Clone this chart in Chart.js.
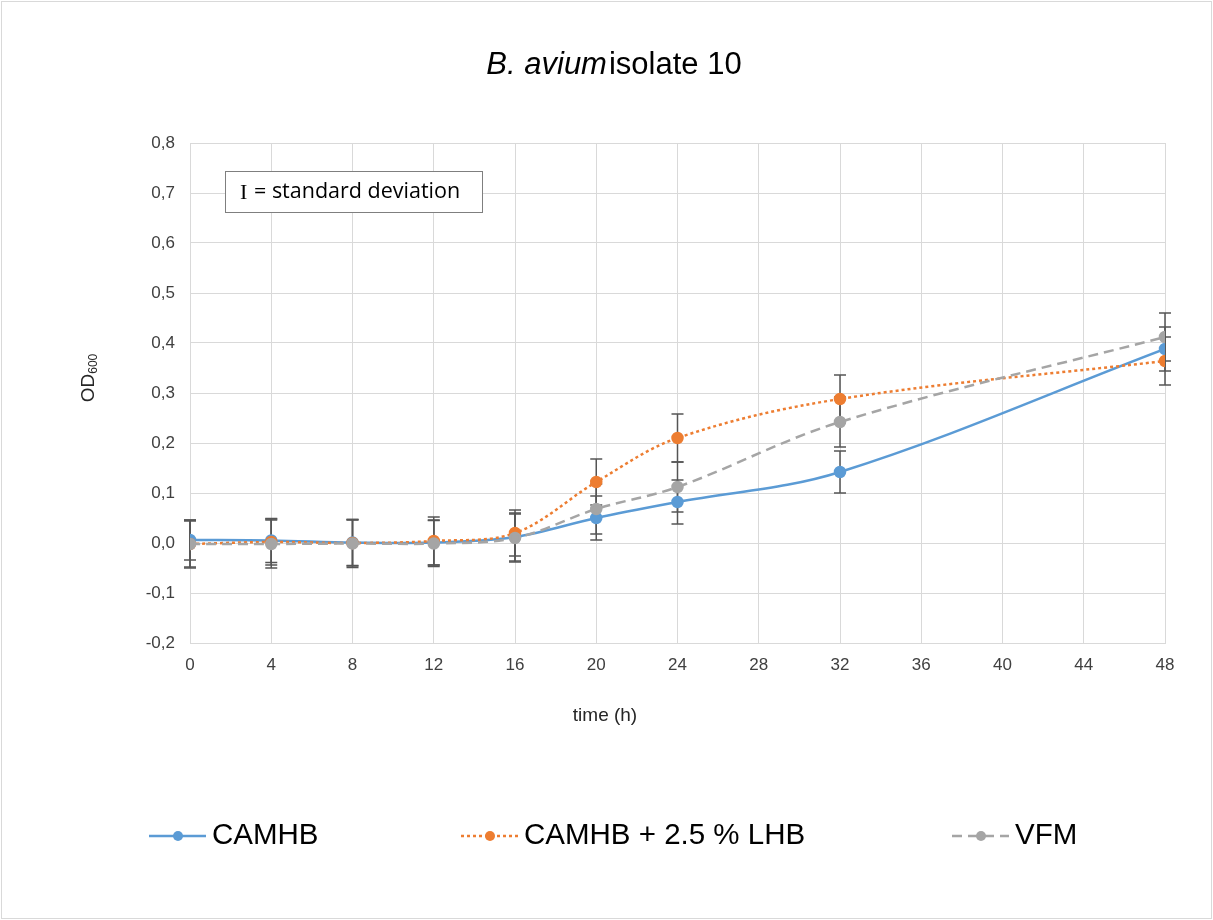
<!DOCTYPE html>
<html>
<head>
<meta charset="utf-8">
<title>B. avium isolate 10</title>
<script src="https://cdn.jsdelivr.net/npm/chart.js@4/dist/chart.umd.min.js"></script>
<style>
  html, body { margin: 0; padding: 0; background: #fff; }
  #wrap { width: 1213px; height: 920px; }
</style>
</head>
<body>
<div id="wrap"><canvas id="growthChart" width="1213" height="920"></canvas></div>
<script>
// sampling times (h)
const hours = [0, 4, 8, 12, 16, 20, 24, 32, 48];

// mean OD600 per medium
const camhb = [0.006, 0.005, 0.001, 0.001, 0.012, 0.050, 0.082, 0.142, 0.388];
const camhbLhb = [-0.002, 0.002, 0.000, 0.004, 0.020, 0.122, 0.210, 0.288, 0.364];
const vfm = [-0.002, -0.002, -0.001, -0.001, 0.010, 0.068, 0.112, 0.242, 0.412];

// standard deviations
const camhbSd = [0.040, 0.044, 0.046, 0.045, 0.048, 0.044, 0.044, 0.042, 0.044];
const camhbLhbSd = [0.046, 0.046, 0.046, 0.048, 0.046, 0.046, 0.048, 0.048, 0.048];
const vfmSd = [0.048, 0.048, 0.048, 0.046, 0.048, 0.050, 0.050, 0.050, 0.048];

const seriesNames = ['CAMHB', 'CAMHB + 2.5 % LHB', 'VFM'];

const yTicks = [-0.2, -0.1, 0, 0.1, 0.2, 0.3, 0.4, 0.5, 0.6, 0.7, 0.8];

const FONT = '"Liberation Sans", Arial, sans-serif';

function points(values){
    return hours.map((h, i) => ({x: h, y: values[i]}));
}

function series(label, values, sd, color, dash, order){
    return {
        label: label,
        data: points(values),
        sd: sd,
        borderColor: color,
        backgroundColor: color,
        pointBackgroundColor: color,
        pointBorderColor: color,
        pointRadius: 5,
        pointHoverRadius: 5,
        borderWidth: 2.5,
        borderDash: dash,
        tension: 0.35,
        order: order
    };
}

// white page + thin frame
const frame = {
    id: 'frame',
    beforeDraw(chart){
        const ctx = chart.ctx;
        ctx.save();
        ctx.fillStyle = '#fff';
        ctx.fillRect(0, 0, chart.width, chart.height);
        ctx.strokeStyle = '#d9d9d9';
        ctx.lineWidth = 1;
        ctx.strokeRect(1.5, 1.5, chart.width - 3, chart.height - 3);
        ctx.restore();
    }
};

// vertical error bars with caps
const errorBars = {
    id: 'errorBars',
    beforeDatasetsDraw(chart){
        const {ctx, scales: {x, y}} = chart;
        ctx.save();
        ctx.strokeStyle = '#555';
        ctx.lineWidth = 1.5;
        ctx.setLineDash([]);
        chart.data.datasets.forEach(ds => {
            ds.data.forEach((p, i) => {
                const px = x.getPixelForValue(p.x);
                const top = y.getPixelForValue(p.y + ds.sd[i]);
                const bot = y.getPixelForValue(p.y - ds.sd[i]);
                ctx.beginPath();
                ctx.moveTo(px, top);
                ctx.lineTo(px, bot);
                ctx.moveTo(px - 6, top);
                ctx.lineTo(px + 6, top);
                ctx.moveTo(px - 6, bot);
                ctx.lineTo(px + 6, bot);
                ctx.stroke();
            });
        });
        ctx.restore();
    }
};

// title, axis titles, note box and legend
const decorations = {
    id: 'decorations',
    afterDraw(chart){
        const ctx = chart.ctx;
        ctx.save();
        ctx.textBaseline = 'middle';
        ctx.fillStyle = '#000';

        // chart title, species name in italics
        const italicPart = 'B. avium';
        const plainPart = 'isolate 10';
        ctx.font = 'italic 31px ' + FONT;
        const w1 = ctx.measureText(italicPart).width;
        ctx.font = '31px ' + FONT;
        const w2 = ctx.measureText(plainPart).width;
        const gap = 2;
        const tx = 614 - (w1 + gap + w2) / 2;
        ctx.textAlign = 'left';
        ctx.font = 'italic 31px ' + FONT;
        ctx.fillText(italicPart, tx, 65);
        ctx.font = '31px ' + FONT;
        ctx.fillText(plainPart, tx + w1 + gap, 65);

        // x axis title
        ctx.fillStyle = '#262626';
        ctx.font = '19px ' + FONT;
        ctx.textAlign = 'center';
        ctx.fillText('time (h)', 605, 716);

        // y axis title OD600, subscript
        ctx.save();
        ctx.translate(89, 378);
        ctx.rotate(-Math.PI / 2);
        ctx.textAlign = 'left';
        ctx.font = '19px ' + FONT;
        const odW = ctx.measureText('OD').width;
        ctx.font = '12px ' + FONT;
        const subW = ctx.measureText('600').width;
        const sx = -(odW + subW) / 2;
        ctx.font = '19px ' + FONT;
        ctx.fillText('OD', sx, 0);
        ctx.font = '12px ' + FONT;
        ctx.fillText('600', sx + odW, 5);
        ctx.restore();

        // note box
        ctx.fillStyle = '#fff';
        ctx.fillRect(225, 171, 258, 42);
        ctx.strokeStyle = '#7f7f7f';
        ctx.lineWidth = 1;
        ctx.strokeRect(225.5, 171.5, 257, 41);
        ctx.fillStyle = '#000';
        ctx.textAlign = 'left';
        ctx.font = '22px "Liberation Serif", serif';
        ctx.fillText('I', 240, 193);
        ctx.font = '21.5px "Open Sans", sans-serif';
        ctx.fillText('= standard deviation', 254, 192);

        // legend
        const legendX = [149, 461, 952];
        const ly = 836;
        chart.data.datasets.forEach((ds, i) => {
            const lx = legendX[i];
            ctx.strokeStyle = ds.borderColor;
            ctx.lineWidth = 2.5;
            ctx.setLineDash(ds.borderDash || []);
            ctx.beginPath();
            ctx.moveTo(lx, ly);
            ctx.lineTo(lx + 57, ly);
            ctx.stroke();
            ctx.setLineDash([]);
            ctx.fillStyle = ds.borderColor;
            ctx.beginPath();
            ctx.arc(lx + 29, ly, 5, 0, Math.PI * 2);
            ctx.fill();
            ctx.fillStyle = '#000';
            ctx.font = '29.5px ' + FONT;
            ctx.fillText(ds.label, lx + 63, ly);
        });
        ctx.restore();
    }
};

const ctx = document.getElementById('growthChart').getContext('2d');

const chart = new Chart(ctx, {
    type: 'line',
    data: {
        datasets: [
            series(seriesNames[0], camhb, camhbSd, '#5b9bd5', [], 2),
            series(seriesNames[1], camhbLhb, camhbLhbSd, '#ed7d31', [3, 3], 1),
            series(seriesNames[2], vfm, vfmSd, '#a5a5a5', [10, 6], 0)
        ]
    },
    options: {
        responsive: false,
        animation: false,
        layout: {
            padding: {left: 0, right: 48, top: 143, bottom: 0}
        },
        plugins: {
            legend: {display: false},
            title: {display: false},
            tooltip: {enabled: false}
        },
        scales: {
            x: {
                type: 'linear',
                min: 0,
                max: 48,
                afterFit(scale){ scale.height = 277; },
                grid: {color: '#d9d9d9', lineWidth: 1, drawTicks: false},
                border: {color: '#d9d9d9'},
                ticks: {
                    stepSize: 4,
                    padding: 12,
                    color: '#404040',
                    font: {family: FONT, size: 17}
                }
            },
            y: {
                min: -0.2,
                max: 0.8,
                afterFit(scale){ scale.width = 190; },
                afterBuildTicks(scale){
                    scale.ticks = yTicks.map(v => ({value: v}));
                },
                grid: {color: '#d9d9d9', lineWidth: 1, drawTicks: false},
                border: {color: '#d9d9d9'},
                ticks: {
                    padding: 15,
                    color: '#404040',
                    font: {family: FONT, size: 17},
                    callback: v => (Math.abs(v) < 1e-9 ? 0 : v).toFixed(1).replace('.', ',')
                }
            }
        }
    },
    plugins: [frame, errorBars, decorations]
});
</script>
</body>
</html>
